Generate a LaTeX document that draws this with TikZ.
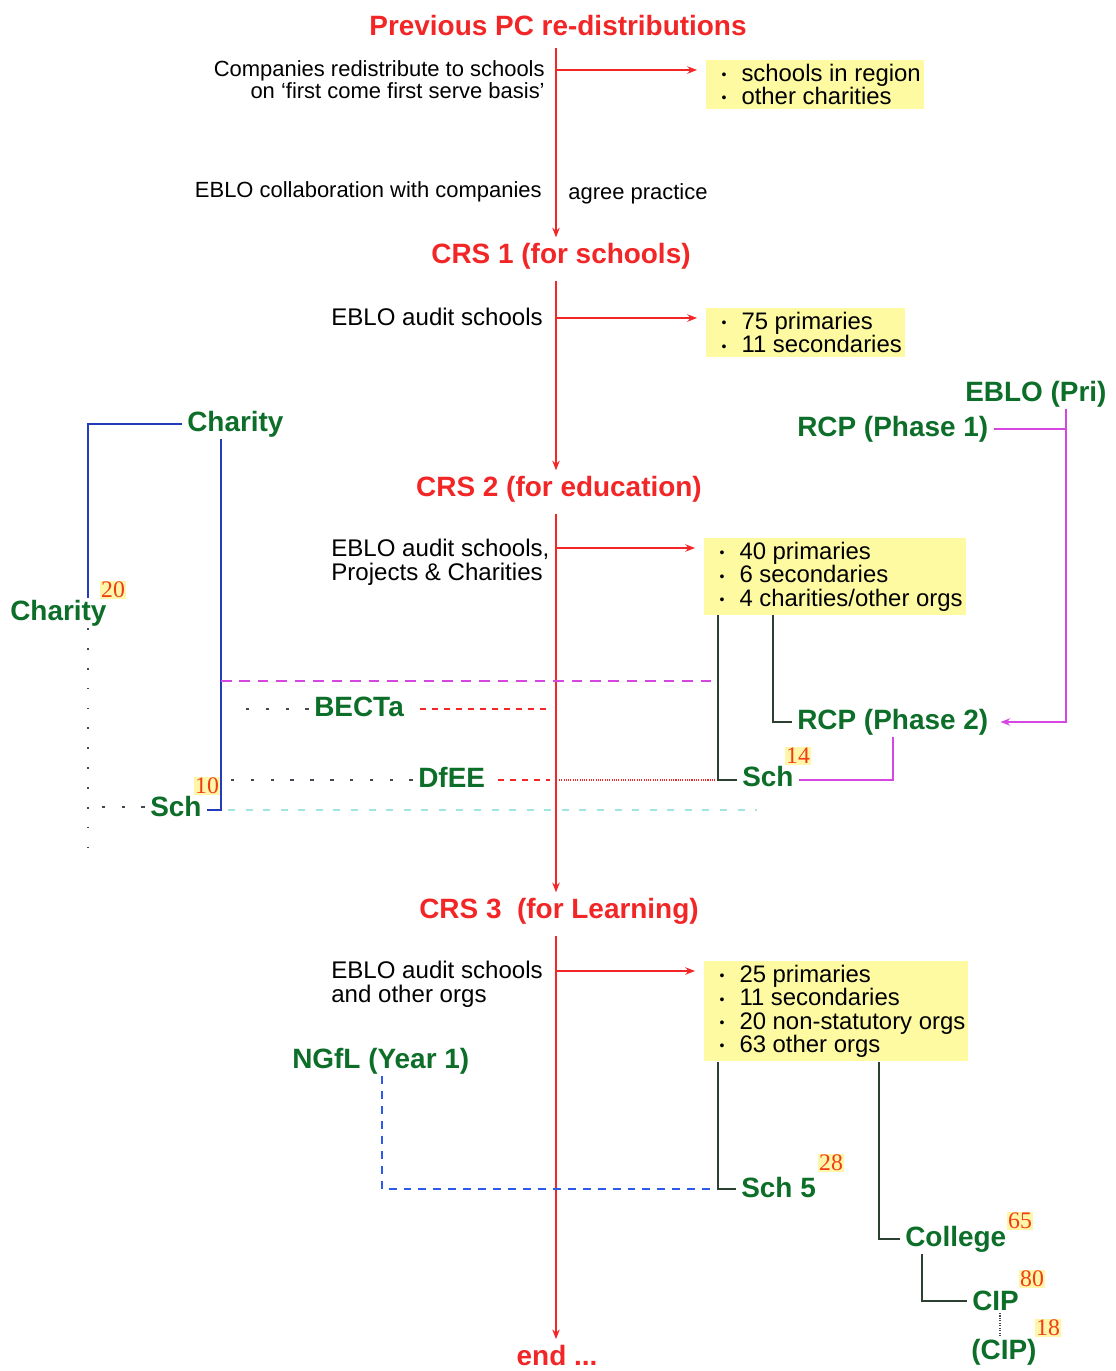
\documentclass[tikz,border=0pt]{standalone}
\usepackage{fontspec}
\setmainfont{Liberation Sans}
\newfontfamily\numfont{Liberation Serif}
\usetikzlibrary{arrows.meta,calc}

\definecolor{crsred}{RGB}{242,38,38}
\definecolor{lblgreen}{RGB}{12,110,40}
\definecolor{boxyellow}{RGB}{253,250,162}
\definecolor{numred}{RGB}{240,62,20}
\definecolor{numyellow}{RGB}{255,246,170}
\definecolor{magline}{RGB}{214,70,224}
\definecolor{blueline}{RGB}{35,60,185}
\definecolor{bluedashc}{RGB}{45,90,235}
\definecolor{darkline}{RGB}{45,65,50}
\definecolor{cyanline}{RGB}{160,228,228}
\definecolor{grayline}{RGB}{70,70,85}

% one bullet line inside a yellow list box
\newcommand\ptitem{\makebox[0.64cm][l]{\hspace{0.24cm}\raisebox{0.15ex}{\footnotesize\textbullet}}}

\begin{document}
\begin{tikzpicture}[x=0.02cm,y=-0.02cm,
  ttl/.style={text=crsred, font=\fontsize{15.9}{18}\selectfont\bfseries, inner xsep=0pt, inner ysep=3pt},
  lbl/.style={text=lblgreen, font=\fontsize{15.9}{18}\selectfont\bfseries, inner xsep=2.8pt, inner ysep=1pt, anchor=west},
  txt/.style={font=\fontsize{12.5}{12.6}\selectfont, inner sep=0pt},
  audtxt/.style={font=\fontsize{13.7}{13.6}\selectfont, inner sep=0pt, anchor=west, align=left},
  lst/.style={fill=boxyellow, anchor=north west, inner xsep=1.8pt, inner ysep=2.3pt,
              font=\fontsize{13.6}{13.2}\selectfont, align=left},
  num/.style={font=\numfont\fontsize{13.5}{13.5}\selectfont, text=numred, fill=numyellow, inner sep=0.6pt},
  redln/.style={draw=crsred, line width=1.1pt},
  redarr/.style={redln, -{Stealth[length=5.5pt,width=4.2pt]}},
  blu/.style={draw=blueline, line width=0.9pt},
  mag/.style={draw=magline, line width=0.9pt},
  dk/.style={draw=darkline, line width=0.9pt},
  gdot/.style={draw=grayline, line width=0.9pt, dash pattern=on 2pt off 9.3pt},
  vdot/.style={draw=grayline, line width=0.8pt, dash pattern=on 1pt off 10.3pt},
  reddash/.style={draw=crsred, line width=0.8pt, dash pattern=on 3.4pt off 3.4pt},
  reddot/.style={draw=crsred, line width=0.8pt, dash pattern=on 0.6pt off 0.7pt},
  magdash/.style={draw=magline, line width=0.9pt, dash pattern=on 6pt off 4.5pt},
  cyandash/.style={draw=cyanline, line width=0.9pt, dash pattern=on 4pt off 6pt},
  bluedash/.style={draw=bluedashc, line width=0.9pt, dash pattern=on 4.5pt off 4pt},
  fdot/.style={draw=grayline, line width=0.6pt, dash pattern=on 0.6pt off 0.8pt}]

\useasboundingbox[fill=white] (0,0) rectangle (1115,1371);

% ---- spine of stages ----
\coordinate (spine) at (556,0);
\node[ttl] (title) at (558,26) {Previous PC re-distributions};
\node[ttl] (crs1) at (561,256) {CRS 1 (for schools)};
\node[ttl] (crs2) at (559,489) {CRS 2 (for education)};
\node[ttl] (crs3) at (559,911) {CRS 3\ \ (for Learning)};
\node[ttl] (endn) at (557,1355) {end ...};

\draw[redarr, shorten <=0.12cm] (title.south -| spine) -- (crs1.north -| spine);
\draw[redarr, shorten <=0.12cm] (crs1.south -| spine) -- (crs2.north -| spine);
\draw[redarr, shorten <=0.12cm] (crs2.south -| spine) -- (crs3.north -| spine);
\draw[redarr, shorten <=0.12cm] (crs3.south -| spine) -- (endn.north -| spine);

% ---- stage descriptions ----
\node[txt, anchor=east, align=right] (comp) at (545,80)
  {Companies redistribute to schools\\on ‘first come first serve basis’};
\node[txt, anchor=east] (collab) at (542,192) {EBLO collaboration with companies};
\node[txt, anchor=west] (agree) at (568,194) {agree practice};
\node[audtxt] (aud1) at (331,317) {EBLO audit schools};
\node[audtxt] (aud2) at (331,562) {EBLO audit schools,\\Projects \& Charities};
\node[audtxt] (aud3) at (331,984) {EBLO audit schools\\and other orgs};

% ---- yellow result boxes ----
\node[lst] (box1) at (706,60) {\ptitem schools in region\\\ptitem other charities};
\node[lst] (box2) at (706,308) {\ptitem 75 primaries\\\ptitem 11 secondaries};
\node[lst] (box3) at (704,538) {\ptitem 40 primaries\\\ptitem 6 secondaries\\\ptitem 4 charities/other orgs};
\node[lst] (box4) at (704,961) {\ptitem 25 primaries\\\ptitem 11 secondaries\\\ptitem 20 non-statutory orgs\\\ptitem 63 other orgs};

\coordinate (a1) at (556,70);
\coordinate (a2) at (556,318);
\coordinate (a3) at (556,548);
\coordinate (a4) at (556,971);
\draw[redarr, shorten >=0.18cm] (a1) -- (a1 -| box1.west);
\draw[redarr, shorten >=0.18cm] (a2) -- (a2 -| box2.west);
\draw[redarr, shorten >=0.18cm] (a3) -- (a3 -| box3.west);
\draw[redarr, shorten >=0.18cm] (a4) -- (a4 -| box4.west);

% ---- organisations ----
\node[lbl] (charT) at (182,424) {Charity};
\node[lbl] (charB) at (5,613) {Charity};
\node[lbl] (ebloPri) at (960,394) {EBLO (Pri)};
\node[lbl] (rcp1) at (792,429) {RCP (Phase 1)};
\node[lbl] (becta) at (309,707) {BECTa};
\node[lbl] (dfee) at (413,777) {DfEE};
\node[lbl] (schL) at (145,807) {Sch};
\node[lbl] (rcp2) at (792,722) {RCP (Phase 2)};
\node[lbl] (sch14) at (737,777) {Sch};
\node[lbl] (ngfl) at (287,1061) {NGfL (Year 1)};
\node[lbl] (sch5) at (736,1188) {Sch 5};
\node[lbl] (college) at (900,1239) {College};
\node[lbl] (cip) at (967,1301) {CIP};
\node[lbl] (cipp) at (966,1352) {(CIP)};

\node[num] (n20) at (113,590) {20};
\node[num] (n10) at (207,786) {10};
\node[num] (n14) at (798,756) {14};
\node[num] (n28) at (831,1163) {28};
\node[num] (n65) at (1020,1221) {65};
\node[num] (n80) at (1032,1279) {80};
\node[num] (n18) at (1048,1328) {18};

% ---- left-hand charity branch ----
\coordinate (cbX) at (88,598);
\coordinate (cbEnd) at (88,848);
\coordinate (blX) at (221,0);
\coordinate (blY) at (0,810);
\draw[blu] (charT.west) -| (cbX);
\draw[vdot] (charB.south -| cbX) -- (cbEnd);
\draw[gdot] (schL.west) -- (schL.west -| cbX);
\draw[blu] (charT.south -| blX) |- (schL.east |- blY);

% ---- agency links across the spine ----
\coordinate (jx1) at (718,0);
\coordinate (jx2) at (773,0);
\coordinate (mgL) at (221,681);
\draw[magdash] (mgL) -- (mgL -| jx1);
\coordinate (bL) at (230,709);
\coordinate (bR) at (548,709);
\draw[gdot] (becta.west |- bL) -- (bL);
\draw[reddash, shorten <=0.22cm] (becta.east |- bR) -- (bR);
\coordinate (dL) at (230,780);
\coordinate (dR) at (550,780);
\coordinate (dS) at (559,780);
\draw[gdot] (dfee.west |- dL) -- (dL);
\draw[reddash, shorten <=0.16cm] (dfee.east |- dR) -- (dR);
\draw[reddot] (dS) -- (dS -| jx1);
\coordinate (cyL) at (228,810);
\coordinate (cyR) at (757,810);
\draw[cyandash] (cyL) -- (cyR);

% ---- CRS 2 outcomes ----
\draw[dk] (box3.south -| jx1) |- (sch14.west |- dS);
\draw[dk] (box3.south -| jx2) |- (rcp2.west);

% ---- RCP phases ----
\coordinate (rcX) at (1066,0);
\coordinate (sbX) at (893,0);
\draw[mag] (rcp1.east) -- (rcp1.east -| rcX);
\draw[mag, -{Stealth[length=5.5pt,width=4.2pt]}, shorten >=0.14cm] (ebloPri.south -| rcX) |- (rcp2.east);
\draw[mag] (sch14.east |- dS) -| (rcp2.south -| sbX);

% ---- CRS 3 outcomes ----
\coordinate (ngX) at (382,0);
\coordinate (s5J) at (718,1189);
\coordinate (coX) at (879,0);
\coordinate (ciX) at (922,0);
\coordinate (cdX) at (1000,0);
\draw[bluedash] (ngfl.south -| ngX) |- (s5J);
\draw[dk] (box4.south -| jx1) |- (sch5.west |- s5J);
\draw[dk] (box4.south -| coX) |- (college.west);
\draw[dk] (college.south -| ciX) |- (cip.west);
\draw[fdot] (cip.south -| cdX) -- (cipp.north -| cdX);

\end{tikzpicture}
\end{document}
